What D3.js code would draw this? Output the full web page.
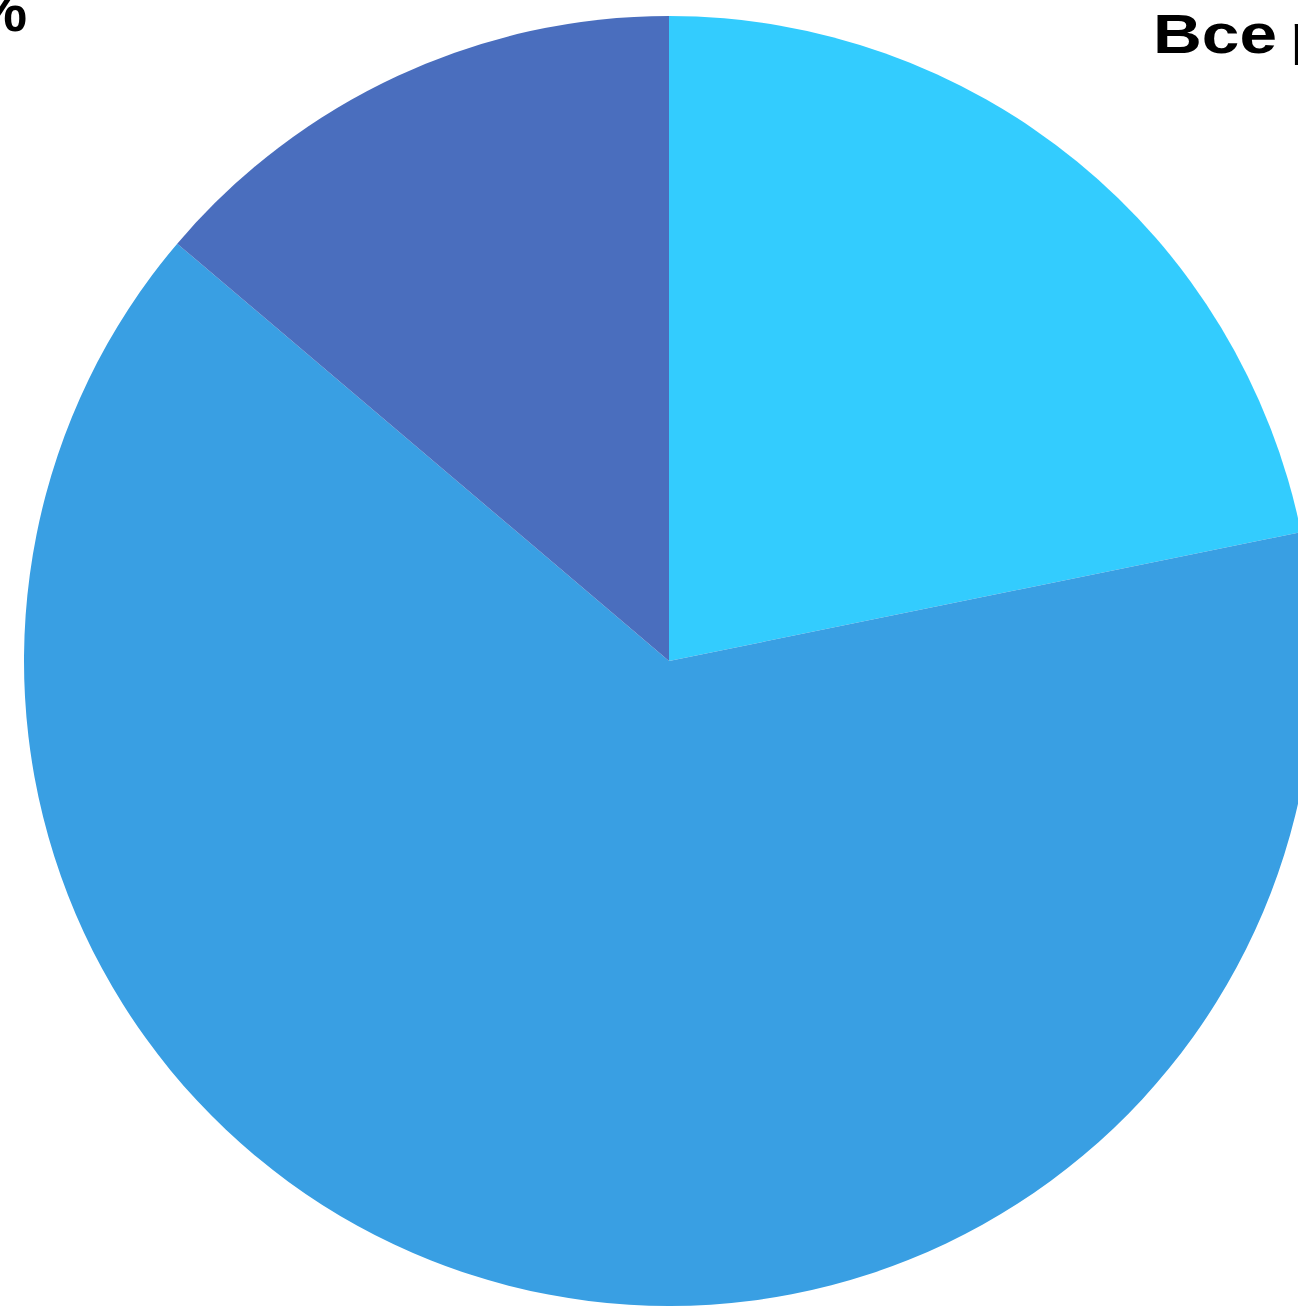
<!DOCTYPE html>
<html><head><meta charset="utf-8">
<script src="https://cdn.jsdelivr.net/npm/d3@7"></script>
<style>html,body{margin:0;padding:0;background:#fff;overflow:hidden}</style>
</head><body>
<svg id="c" width="1298" height="1306"></svg>
<script>
const categories = ["A", "B", "C"];
const values = [21.8, 64.4, 13.8];
const colors = ["#33CCFE", "#399FE3", "#4A6EBE"];
const labels = ["%", "Все", "респонденты"];

const svg = d3.select("#c");
const cx = 669, cy = 661, r = 645;
const pie = d3.pie().sort(null).value(d => d.v);
const arc = d3.arc().innerRadius(0).outerRadius(r);
const data = categories.map((c, i) => ({c, v: values[i], col: colors[i]}));
svg.append("g").attr("transform", `translate(${cx},${cy})`)
  .selectAll("path").data(pie(data)).join("path")
  .attr("d", arc).attr("fill", d => d.data.col);

svg.append("text").attr("x", 27).attr("y", 31).attr("text-anchor", "end")
  .attr("font-family", "Liberation Sans, Arial, sans-serif").attr("font-weight", "bold")
  .attr("font-size", 60).attr("fill", "#000").text(labels[0]);
const t = svg.append("text").attr("y", 53)
  .attr("font-family", "Liberation Sans, Arial, sans-serif").attr("font-weight", "bold")
  .attr("font-size", 56).attr("fill", "#000");
t.append("tspan").attr("x", 1153).attr("textLength", 124).attr("lengthAdjust", "spacingAndGlyphs").text(labels[1]);
t.append("tspan").attr("x", 1291).text(labels[2]);
</script>
</body></html>
